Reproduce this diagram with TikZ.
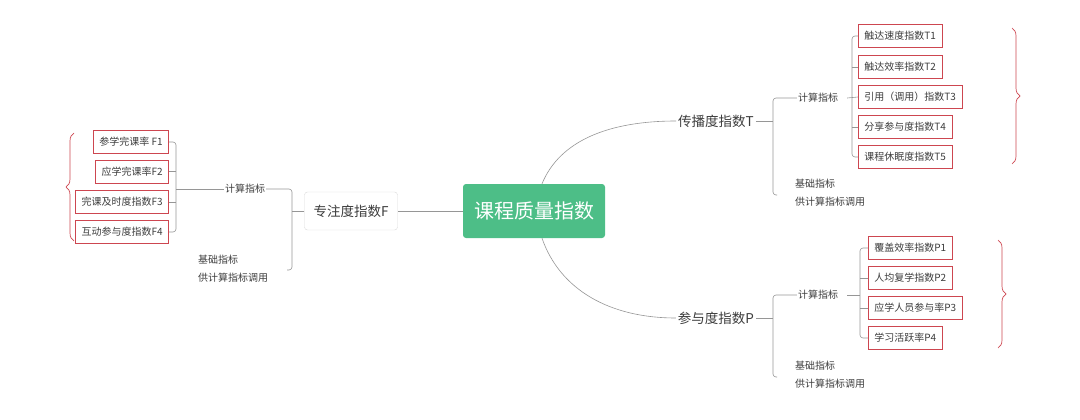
\documentclass[tikz,border=0pt]{standalone}
\usepackage{fontspec}
\setmainfont{Noto Sans CJK SC}
\usetikzlibrary{decorations.pathreplacing}
\definecolor{grn}{RGB}{77,190,135}
\definecolor{redb}{RGB}{205,70,80}
\definecolor{ln}{RGB}{150,150,150}
\definecolor{tx}{RGB}{60,60,60}
\begin{document}
\begin{tikzpicture}[x=1pt,y=-1pt,
  leaf/.style={draw=redb,line width=0.6pt,minimum height=23pt,inner xsep=6pt,inner ysep=0pt,font=\fontsize{10}{12}\selectfont,text=tx},
  lab/.style={font=\fontsize{10}{12}\selectfont,text=tx,inner sep=1pt},
  base/.style={font=\fontsize{10}{18}\selectfont,text=tx,align=left,inner sep=1pt},
  mid/.style={font=\fontsize{13.5}{16}\selectfont,text=tx,inner sep=2pt},
  con/.style={draw=ln,line width=0.6pt,rounded corners=3pt},
  brc/.style={draw=redb,line width=0.7pt,decorate,decoration={brace,amplitude=8pt}}]
\useasboundingbox (0,0) rectangle (1080,420);
\node[fill=grn,rounded corners=3pt,minimum width=142pt,minimum height=54pt,text=white,font=\fontsize{20}{24}\selectfont] (c) at (534,211) {课程质量指数};
% F side
\node[draw=black!15,rounded corners=3pt,minimum width=93pt,minimum height=38pt,mid] (f) at (351,211) {专注度指数F};
\draw[con,rounded corners=0] (c.west) -- (f.east);
\node[lab] (fc) at (245,189) {计算指标};
\node[base,anchor=north west] (fb) at (197,254) {基础指标\\供计算指标调用};
\coordinate (fx) at (292,211);
\draw[con] (fc.east) -- ++(4,0) -- (292,189) -- (292,270) -- ++(-5,0);
\draw[con] (f.west) -- (fx);
\node[leaf,anchor=east] (f1) at (169,142) {参学完课率 F1};
\node[leaf,anchor=east] (f2) at (169,171.5) {应学完课率F2};
\node[leaf,anchor=east] (f3) at (169,202) {完课及时度指数F3};
\node[leaf,anchor=east] (f4) at (169,232) {互动参与度指数F4};
\draw[con] (f1.east) -- ++(7,0) -- (176,232) -- (f4.east);
\draw[con] (f2.east) -- ++(7,0);
\draw[con] (f3.east) -- ++(7,0);
\draw[con] (fc.west) -- (176,189);
\draw[brc] (74,241) -- (74,133);
% T side
\node[mid] (t) at (716,121) {传播度指数T};
\draw[con] (c.north) ++(8,0) .. controls (560,140) and (610,121) .. (t.west);
\node[lab] (tc) at (818,98) {计算指标};
\node[base,anchor=north west] (tb) at (794,178) {基础指标\\供计算指标调用};
\draw[con] (t.east) -- (773,121);
\draw[con] (tc.west) -- ++(-5,0) -- (773,98) -- (773,195) -- ++(4,0);
\node[leaf,anchor=west] (t1) at (858,36) {触达速度指数T1};
\node[leaf,anchor=west] (t2) at (858,67) {触达效率指数T2};
\node[leaf,anchor=west] (t3) at (858,97) {引用（调用）指数T3};
\node[leaf,anchor=west] (t4) at (858,127) {分享参与度指数T4};
\node[leaf,anchor=west] (t5) at (858,157) {课程休眠度指数T5};
\draw[con] (t1.west) -- (852,36) -- (852,157) -- (t5.west);
\draw[con] (t2.west) -- (852,67);
\draw[con] (t4.west) -- (852,127);
\draw[con] (tc.east) ++(8,0) -- (t3.west);
\draw[brc] (1012,28) -- (1012,164);
% P side
\node[mid] (p) at (716,318) {参与度指数P};
\draw[con] (c.south) ++(8,0) .. controls (560,290) and (610,318) .. (p.west);
\node[lab] (pc) at (818,295) {计算指标};
\node[base,anchor=north west] (pb) at (794,360) {基础指标\\供计算指标调用};
\draw[con] (p.east) -- (773,318);
\draw[con] (pc.west) -- ++(-5,0) -- (773,295) -- (773,377) -- ++(4,0);
\node[leaf,anchor=west] (p1) at (868,248) {覆盖效率指数P1};
\node[leaf,anchor=west] (p2) at (868,278) {人均复学指数P2};
\node[leaf,anchor=west] (p3) at (868,308) {应学人员参与率P3};
\node[leaf,anchor=west] (p4) at (868,338) {学习活跃率P4};
\draw[con] (p1.west) -- (860,248) -- (860,338) -- (p4.west);
\draw[con] (p2.west) -- (860,278);
\draw[con] (p3.west) -- (860,308);
\draw[con] (pc.east) ++(8,0) -- (860,295);
\draw[brc] (998,240) -- (998,348);
\end{tikzpicture}
\end{document}
